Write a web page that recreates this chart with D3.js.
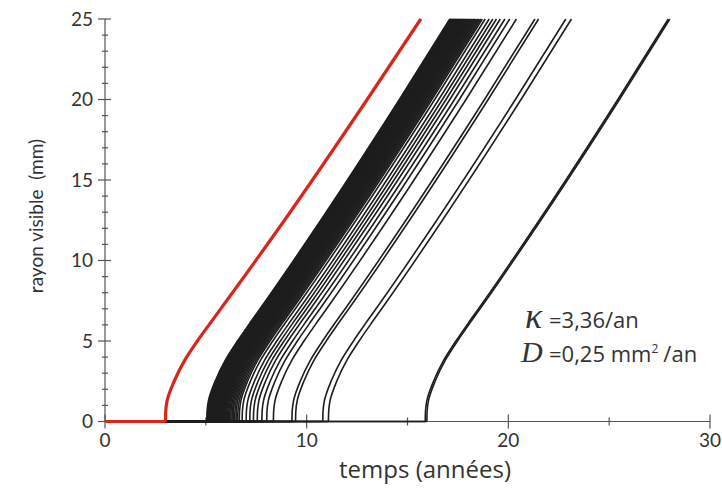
<!DOCTYPE html>
<html>
<head>
<meta charset="utf-8">
<script src="https://cdn.jsdelivr.net/npm/d3@7"></script>
<style>
  body { margin: 0; background: #fff; }
  text { font-family: Lato, "Open Sans", sans-serif; fill: #333; }
</style>
</head>
<body>
<script>
var width = 722,
    height = 493;

// start times (years) of the black curves
var bandStarts = [5.05, 5.08, 5.10, 5.13, 5.16, 5.19, 5.22, 5.25, 5.28, 5.31,
                  5.34, 5.37, 5.40, 5.43, 5.46, 5.50, 5.53, 5.56, 5.60, 5.63,
                  5.67, 5.70, 5.74, 5.78, 5.82, 5.86, 5.90, 5.94, 5.98, 6.03,
                  6.08, 6.13, 6.18, 6.24, 6.30, 6.36, 6.43, 6.50, 6.58, 6.66];
var lateStarts = [6.80, 7.00, 7.18, 7.36, 7.55, 7.78, 8.02, 8.35,
                  9.27, 9.45, 10.80, 11.08, 15.88, 15.96];
var redStart = 3.0;

// curve shape after its start: [years since start, radius mm]
var blackShape = [[0, 0], [0.01, 0.6], [0.08, 1.3], [0.41, 2.5], [0.91, 3.8],
                  [1.52, 5.0], [2.24, 6.3], [2.92, 7.5], [5.65, 12.5],
                  [9.55, 20], [12.05, 25]];
var redShape = [[0, 0], [0.01, 0.6], [0.08, 1.3], [0.43, 2.5], [0.95, 3.8],
                [1.58, 5.0], [2.33, 6.3], [3.03, 7.5], [5.9, 12.5],
                [10.0, 20], [12.66, 25]];

var xTicks = [0, 10, 20, 30], xMinor = [5, 15, 25];
var yTicks = [0, 5, 10, 15, 20, 25];
var yMinor = [1, 2, 3, 4, 6, 7, 8, 9, 11, 12, 13, 14, 16, 17, 18, 19, 21, 22, 23, 24];

var svg = d3.select("body").append("svg")
    .attr("width", width)
    .attr("height", height);

var x = d3.scaleLinear().domain([0, 30]).range([105, 710]);
var y = d3.scaleLinear().domain([0, 25]).range([421.5, 19]);

var line = d3.line()
    .x(function(d) { return x(d[0]); })
    .y(function(d) { return y(d[1]); })
    .curve(d3.curveMonotoneY);

function shifted(shape, t0) {
  return shape.map(function(p) { return [p[0] + t0, p[1]]; });
}

// axes
var ax = svg.append("g").attr("stroke", "#555").attr("stroke-width", 1.2);
ax.append("line").attr("x1", x(0)).attr("x2", x(30)).attr("y1", y(0)).attr("y2", y(0));
ax.append("line").attr("x1", x(0)).attr("x2", x(0)).attr("y1", y(0)).attr("y2", y(25));

ax.selectAll(".xmaj").data(xTicks).enter().append("line")
    .attr("x1", function(d) { return x(d); }).attr("x2", function(d) { return x(d); })
    .attr("y1", y(0) - 7).attr("y2", y(0) + 7);
ax.selectAll(".xmin").data(xMinor).enter().append("line")
    .attr("x1", function(d) { return x(d); }).attr("x2", function(d) { return x(d); })
    .attr("y1", y(0) - 4).attr("y2", y(0) + 4);
ax.selectAll(".ymaj").data(yTicks).enter().append("line")
    .attr("y1", function(d) { return y(d); }).attr("y2", function(d) { return y(d); })
    .attr("x1", x(0) - 7).attr("x2", x(0) + 6);
ax.selectAll(".ymin").data(yMinor).enter().append("line")
    .attr("y1", function(d) { return y(d); }).attr("y2", function(d) { return y(d); })
    .attr("x1", x(0) - 3).attr("x2", x(0) + 3);

svg.selectAll(".xl").data(xTicks).enter().append("text")
    .attr("x", function(d) { return x(d); })
    .attr("y", 447)
    .attr("text-anchor", "middle")
    .style("font-size", "19px")
    .text(function(d) { return d; });

svg.selectAll(".yl").data(yTicks).enter().append("text")
    .attr("x", 93)
    .attr("y", function(d) { return y(d); })
    .attr("dy", "0.36em")
    .attr("text-anchor", "end")
    .style("font-size", "19px")
    .text(function(d) { return d; });

svg.append("text")
    .attr("x", 425).attr("y", 478)
    .attr("text-anchor", "middle")
    .style("font-family", "'Open Sans', sans-serif")
    .style("font-size", "24px")
    .text("temps (années)");

svg.append("text")
    .attr("transform", "translate(43,216) rotate(-90)")
    .attr("text-anchor", "middle")
    .style("font-size", "19px")
    .attr("xml:space", "preserve")
    .text("rayon visible  (mm)");

// black curves
var starts = bandStarts.concat(lateStarts);
var curves = svg.append("g")
    .attr("fill", "none")
    .attr("stroke", "#1e1e1e")
    .attr("stroke-width", 1.6);

curves.selectAll(".flat").data(starts).enter().append("path")
    .attr("d", function(t0) { return "M" + x(0) + "," + y(0) + "H" + x(t0); });
curves.selectAll(".curve").data(starts).enter().append("path")
    .attr("d", function(t0) { return line(shifted(blackShape, t0)); });

// red curve
var red = svg.append("g")
    .attr("fill", "none")
    .attr("stroke", "#d8261b")
    .attr("stroke-width", 3.2);
red.append("path").attr("d", "M" + x(0) + "," + y(0) + "H" + x(redStart));
red.append("path").attr("d", line(shifted(redShape, redStart)));

// annotation
var l1 = svg.append("text").attr("x", 525).attr("y", 328)
    .style("font-family", "'Open Sans', sans-serif").style("font-size", "22px");
l1.append("tspan")
    .style("font-family", "'Liberation Serif', serif")
    .style("font-style", "italic")
    .style("font-size", "36px")
    .text("κ");
l1.append("tspan").attr("x", 549).text("=3,36/an");

var l2 = svg.append("text").attr("x", 521).attr("y", 362)
    .style("font-family", "'Open Sans', sans-serif").style("font-size", "22px");
l2.append("tspan")
    .style("font-family", "'Liberation Serif', 'DejaVu Serif', serif")
    .style("font-style", "italic")
    .style("font-size", "30px")
    .text("D");
l2.append("tspan").attr("x", 549).text("=0,25 mm");
l2.append("tspan").attr("dy", -9).style("font-size", "12px").text("2");
l2.append("tspan").attr("dy", 9).attr("dx", 5).text("/an");
</script>
</body>
</html>
